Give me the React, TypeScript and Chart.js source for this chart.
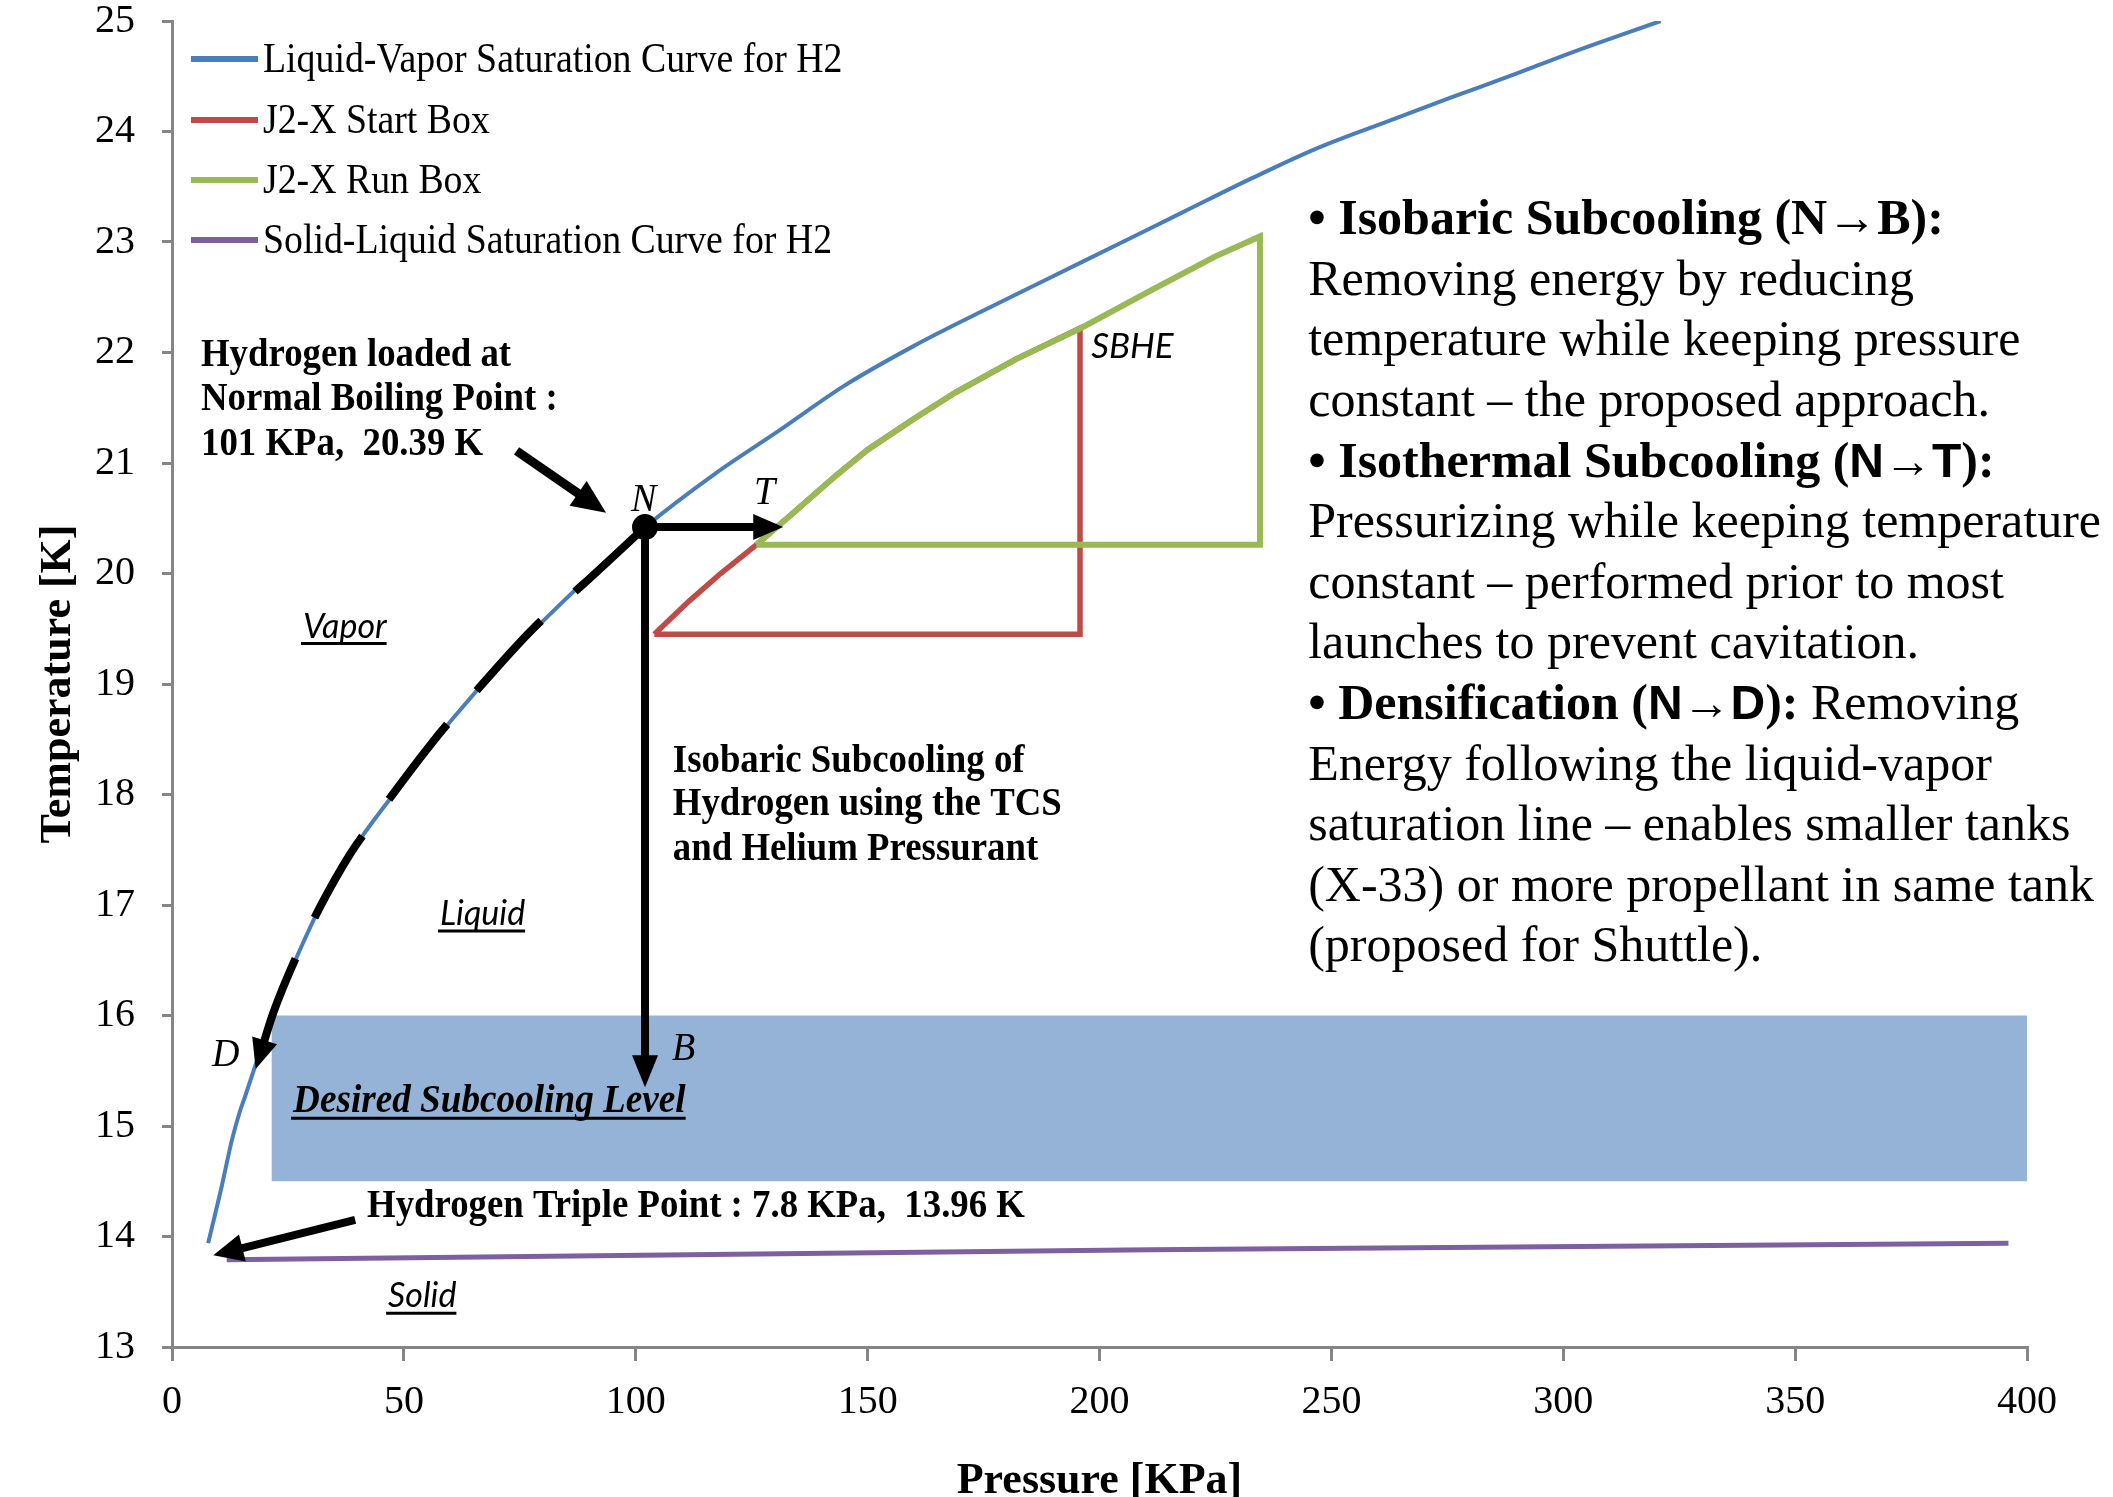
import React, { useEffect, useRef } from "react";
import { Chart, registerables } from "chart.js";

Chart.register(...registerables);

const CANVAS_W = 2113;
const CANVAS_H = 1497;

// ---------- data ----------
const seriesLabels = [
  "Liquid-Vapor Saturation Curve for H2",
  "J2-X Start Box",
  "J2-X Run Box",
  "Solid-Liquid Saturation Curve for H2",
];

const vaporPressure = [7.8, 10.7, 12.9, 14.7, 15.7, 18.0, 21.8, 26.5, 31.9, 38.4, 43.4, 53.5, 60.6, 72, 83.7, 92, 102, 117, 130.8, 145, 160, 175, 189, 204, 218, 233, 247, 262, 276, 289, 301.5, 321];
const vaporTemp = [13.94, 14.45, 14.87, 15.14, 15.26, 15.55, 16.02, 16.49, 16.98, 17.46, 17.76, 18.31, 18.69, 19.23, 19.72, 20.05, 20.42, 20.9, 21.29, 21.7, 22.06, 22.38, 22.67, 22.98, 23.27, 23.58, 23.85, 24.09, 24.31, 24.51, 24.71, 25.0];

const startBoxPressure = [104, 111.5, 118.3, 126, 134, 143, 150, 160, 169, 182, 195.8, 195.8, 104];
const startBoxTemp = [19.45, 19.75, 20.0, 20.26, 20.55, 20.88, 21.12, 21.4, 21.64, 21.94, 22.22, 19.45, 19.45];

const runBoxPressure = [126, 134, 143, 150, 160, 169, 182, 196, 211, 225, 234.6, 234.6, 126];
const runBoxTemp = [20.26, 20.55, 20.88, 21.12, 21.4, 21.64, 21.94, 22.22, 22.56, 22.87, 23.05, 20.26, 20.26];

const meltPressure = [11.8, 211, 396];
const meltTemp = [13.79, 13.88, 13.94];

// Densification path N -> D (dashed arrow)
const densifyPressure = [102, 88.6, 78.3, 63.8, 56.3, 43.4, 38.4, 31.9, 27.2, 21.8, 18.3];
const densifyTemp = [20.42, 19.9, 19.52, 18.85, 18.48, 17.76, 17.46, 16.98, 16.57, 16.02, 15.55];

// Normal boiling point N
const pointNPressure = [102];
const pointNTemp = [20.42];

// Desired subcooling band
const bandPressure = [21.5, 400];
const bandTemp = [14.5, 16.0];

// Axes
const xMin = 0, xMax = 400, xStep = 50;
const yMin = 13, yMax = 25, yStep = 1;

// ---------- styles ----------
const SERIF = "'Liberation Serif', 'Times New Roman', serif";
const SANS = "'Liberation Sans', Arial, sans-serif";
const CAL = "Lato, 'Liberation Sans', sans-serif";
const BLUE = "#4A7EBB";
const RED = "#BE4B48";
const GREEN = "#98B954";
const PURPLE = "#7D60A0";
const BAND = "#95B3D7";
const AXIS = "#868686";

// arrows (from/to in data units)
const solidArrows = [
  { from: [102, 20.42], to: [131.8, 20.42], w: 8, head: 30, headW: 26 },
  { from: [102, 20.42], to: [102, 15.35], w: 8, head: 32, headW: 26 },
  { from: [74.3, 21.11], to: [93.6, 20.55], w: 9, head: 34, headW: 30 },
  { from: [39.5, 14.15], to: [8.9, 13.83], w: 8, head: 30, headW: 28 },
];

type TextStyle = { font: string; sx: number; underline?: boolean };
const styles: Record<string, TextStyle> = {
  bold: { font: `bold 40px ${SERIF}`, sx: 0.92 },
  italic: { font: `italic 40px ${SERIF}`, sx: 0.95 },
  sansItalicU: { font: `italic 34px ${CAL}`, sx: 1, underline: true },
  sansItalic: { font: `italic 35px ${CAL}`, sx: 1 },
  boldItalicU: { font: `italic bold 40px ${SERIF}`, sx: 0.93, underline: true },
};

const chartTexts = [
  { text: "Hydrogen loaded at", p: 6.25, t: 21.88, s: "bold" },
  { text: "Normal Boiling Point :", p: 6.25, t: 21.48, s: "bold" },
  { text: "101 KPa,  20.39 K", p: 6.25, t: 21.075, s: "bold" },
  { text: "Vapor", p: 28.25, t: 19.42, s: "sansItalicU" },
  { text: "Liquid", p: 57.8, t: 16.82, s: "sansItalicU" },
  { text: "Solid", p: 46.6, t: 13.36, s: "sansItalicU" },
  { text: "N", p: 99.0, t: 20.57, s: "italic" },
  { text: "T", p: 125.5, t: 20.63, s: "italic" },
  { text: "SBHE", p: 198.2, t: 21.95, s: "sansItalic" },
  { text: "D", p: 8.6, t: 15.54, s: "italic" },
  { text: "B", p: 107.8, t: 15.6, s: "italic" },
  { text: "Desired Subcooling Level", p: 26.1, t: 15.125, s: "boldItalicU" },
  { text: "Isobaric Subcooling of", p: 108.0, t: 18.2, s: "bold" },
  { text: "Hydrogen using the TCS", p: 108.0, t: 17.81, s: "bold" },
  { text: "and Helium Pressurant", p: 108.0, t: 17.403, s: "bold" },
  { text: "Hydrogen Triple Point : 7.8 KPa,  13.96 K", p: 42.05, t: 14.175, s: "bold" },
];

const noteFonts: Record<string, string> = {
  b: `bold 50px ${SERIF}`,
  r: `50px ${SERIF}`,
  bs: `bold 48px ${SANS}`,
};
const notes: [string, string][][] = [
  [["b", "\u2022 Isobaric Subcooling (N\u2192B):"]],
  [["r", "Removing energy by reducing"]],
  [["r", "temperature while keeping pressure"]],
  [["r", "constant \u2013 the proposed approach."]],
  [["b", "\u2022 Isothermal Subcooling ("], ["bs", "N\u2192T"], ["b", "):"]],
  [["r", "Pressurizing while keeping temperature"]],
  [["r", "constant \u2013 performed prior to most"]],
  [["r", "launches to prevent cavitation."]],
  [["b", "\u2022 Densification ("], ["bs", "N\u2192D"], ["b", "):"], ["r", " Removing"]],
  [["r", "Energy following the liquid-vapor"]],
  [["r", "saturation line \u2013 enables smaller tanks"]],
  [["r", "(X-33) or more propellant in same tank"]],
  [["r", "(proposed for Shuttle)."]],
];
const notesAnchor = { p: 245, t: 23.07, lineGap: 60.6 };

// ---------- helpers ----------
function px(chart: any, p: number, t: number): [number, number] {
  return [chart.scales.x.getPixelForValue(p), chart.scales.y.getPixelForValue(t)];
}

function drawText(ctx: CanvasRenderingContext2D, text: string, x: number, y: number, st: TextStyle) {
  ctx.save();
  ctx.font = st.font;
  ctx.fillStyle = "#000";
  ctx.textAlign = "left";
  ctx.textBaseline = "alphabetic";
  ctx.translate(x, y);
  ctx.scale(st.sx, 1);
  ctx.fillText(text, 0, 0);
  const w = ctx.measureText(text).width * st.sx;
  ctx.restore();
  if (st.underline) {
    ctx.save();
    ctx.strokeStyle = "#000";
    ctx.lineWidth = 3;
    ctx.beginPath();
    ctx.moveTo(x - 2, y + 6);
    ctx.lineTo(x + w, y + 6);
    ctx.stroke();
    ctx.restore();
  }
  return w;
}

function drawArrow(ctx: CanvasRenderingContext2D, x1: number, y1: number, x2: number, y2: number, w: number, head: number, headW: number) {
  const a = Math.atan2(y2 - y1, x2 - x1);
  const c = Math.cos(a), s = Math.sin(a);
  const bx = x2 - head * c, by = y2 - head * s;
  ctx.save();
  ctx.strokeStyle = "#000";
  ctx.fillStyle = "#000";
  ctx.lineWidth = w;
  ctx.lineCap = "butt";
  ctx.beginPath();
  ctx.moveTo(x1, y1);
  ctx.lineTo(bx + 2 * c, by + 2 * s);
  ctx.stroke();
  ctx.beginPath();
  ctx.moveTo(x2, y2);
  ctx.lineTo(bx + (headW / 2) * s, by - (headW / 2) * c);
  ctx.lineTo(bx - (headW / 2) * s, by + (headW / 2) * c);
  ctx.closePath();
  ctx.fill();
  ctx.restore();
}

const decorPlugin = {
  id: "decor",
  beforeDatasetsDraw(chart: any) {
    const ctx = chart.ctx as CanvasRenderingContext2D;
    const [x1, y1] = px(chart, bandPressure[0], bandTemp[1]);
    const [x2, y2] = px(chart, bandPressure[1], bandTemp[0]);
    ctx.save();
    ctx.fillStyle = BAND;
    ctx.fillRect(x1, y1, x2 - x1, y2 - y1);
    ctx.restore();
  },
  afterDatasetsDraw(chart: any) {
    const ctx = chart.ctx as CanvasRenderingContext2D;
    // solid arrows
    for (const a of solidArrows) {
      const [x1, y1] = px(chart, a.from[0], a.from[1]);
      const [x2, y2] = px(chart, a.to[0], a.to[1]);
      drawArrow(ctx, x1, y1, x2, y2, a.w, a.head, a.headW);
    }
    // arrow head at D (end of densification path)
    const n = densifyPressure.length;
    const [ax, ay] = px(chart, densifyPressure[n - 2], densifyTemp[n - 2]);
    const [tx, ty] = px(chart, densifyPressure[n - 1], densifyTemp[n - 1]);
    const ang = Math.atan2(ty - ay, tx - ax);
    const tipX = tx + 4 * Math.cos(ang), tipY = ty + 4 * Math.sin(ang);
    drawArrow(ctx, tipX - 30 * Math.cos(ang), tipY - 30 * Math.sin(ang), tipX, tipY, 0.1, 30, 26);

    // texts
    for (const t of chartTexts) {
      const [x, y] = px(chart, t.p, t.t);
      drawText(ctx, t.text, x, y, styles[t.s]);
    }

    // notes block
    const [nx, ny] = px(chart, notesAnchor.p, notesAnchor.t);
    notes.forEach((line, i) => {
      let x = nx;
      const y = ny + i * notesAnchor.lineGap;
      for (const [k, str] of line) {
        x += drawText(ctx, str, x, y, { font: noteFonts[k], sx: 1 });
      }
    });

    // legend (inside plot area, top-left)
    const area = chart.chartArea;
    const baselines = [51, 112, 172, 232];
    for (let i = 0; i < seriesLabels.length; i++) {
      const dsi = chart.data.datasets[i];
      const by = area.top + baselines[i];
      ctx.save();
      ctx.strokeStyle = dsi.borderColor;
      ctx.lineWidth = 6;
      ctx.beginPath();
      ctx.moveTo(area.left + 19, by - 13);
      ctx.lineTo(area.left + 86, by - 13);
      ctx.stroke();
      ctx.restore();
      drawText(ctx, dsi.label, area.left + 91, by, { font: `42px ${SERIF}`, sx: 0.9 });
    }
  },
};

function series(label: string, xs: number[], ys: number[], color: string, width: number, order: number, extra: any = {}) {
  return {
    label,
    data: xs.map((x, i) => ({ x, y: ys[i] })),
    showLine: true,
    borderColor: color,
    backgroundColor: color,
    borderWidth: width,
    pointRadius: 0,
    pointHoverRadius: 0,
    fill: false,
    tension: 0,
    order,
    ...extra,
  };
}

export default function App() {
  const ref = useRef<HTMLCanvasElement | null>(null);
  useEffect(() => {
    if (!ref.current) return;
    const tickFont = { family: SERIF, size: 40, lineHeight: 1 };
    const chart = new Chart(ref.current, {
      type: "scatter",
      data: {
        datasets: [
          series(seriesLabels[0], vaporPressure, vaporTemp, BLUE, 4, 2, { cubicInterpolationMode: "monotone" }),
          series(seriesLabels[1], startBoxPressure, startBoxTemp, RED, 5.5, 4),
          series(seriesLabels[2], runBoxPressure, runBoxTemp, GREEN, 6, 3),
          series(seriesLabels[3], meltPressure, meltTemp, PURPLE, 5, 5),
          series("", densifyPressure, densifyTemp, "#000", 8, 1, { borderDash: [95, 45], cubicInterpolationMode: "monotone" }),
          {
            label: "",
            data: pointNPressure.map((x, i) => ({ x, y: pointNTemp[i] })),
            showLine: false,
            pointRadius: 13,
            pointHoverRadius: 13,
            backgroundColor: "#000",
            borderColor: "#000",
            borderWidth: 0,
            order: 0,
          },
        ],
      },
      options: {
        responsive: false,
        animation: false,
        devicePixelRatio: 1,
        events: [],
        layout: { padding: { top: 21, right: 86, left: 0, bottom: 0 } },
        plugins: {
          legend: { display: false },
          tooltip: { enabled: false },
          title: { display: false },
        },
        scales: {
          x: {
            type: "linear",
            min: xMin,
            max: xMax,
            afterFit: (s: any) => {
              s.height = 150;
              s.paddingLeft = 0;
              s.paddingRight = 0;
            },
            ticks: { stepSize: xStep, font: tickFont, color: "#000", padding: 21, maxRotation: 0 },
            grid: { drawOnChartArea: false, drawTicks: true, tickLength: 14, color: AXIS, lineWidth: 3 },
            border: { color: AXIS, width: 3 },
            title: {
              display: true,
              text: "Pressure [KPa]",
              color: "#000",
              font: { family: SERIF, size: 44, weight: "bold", lineHeight: 0.7 },
              padding: 0,
            },
          },
          y: {
            type: "linear",
            min: yMin,
            max: yMax,
            afterFit: (s: any) => {
              s.width = 172;
              s.paddingTop = 0;
              s.paddingBottom = 0;
            },
            ticks: { stepSize: yStep, font: tickFont, color: "#000", padding: 27 },
            grid: { drawOnChartArea: false, drawTicks: true, tickLength: 10, color: AXIS, lineWidth: 3 },
            border: { color: AXIS, width: 3 },
            title: {
              display: true,
              text: "Temperature [K]",
              color: "#000",
              font: { family: SERIF, size: 44, weight: "bold", lineHeight: 1.2 },
              padding: { top: 32, bottom: 0 },
            },
          },
        },
      } as any,
      plugins: [decorPlugin],
    });
    return () => chart.destroy();
  }, []);

  return (
    <div style={{ position: "absolute", left: 0, top: 0, width: CANVAS_W, height: CANVAS_H, background: "#fff" }}>
      <canvas ref={ref} width={CANVAS_W} height={CANVAS_H} style={{ display: "block", width: CANVAS_W, height: CANVAS_H }} />
    </div>
  );
}
